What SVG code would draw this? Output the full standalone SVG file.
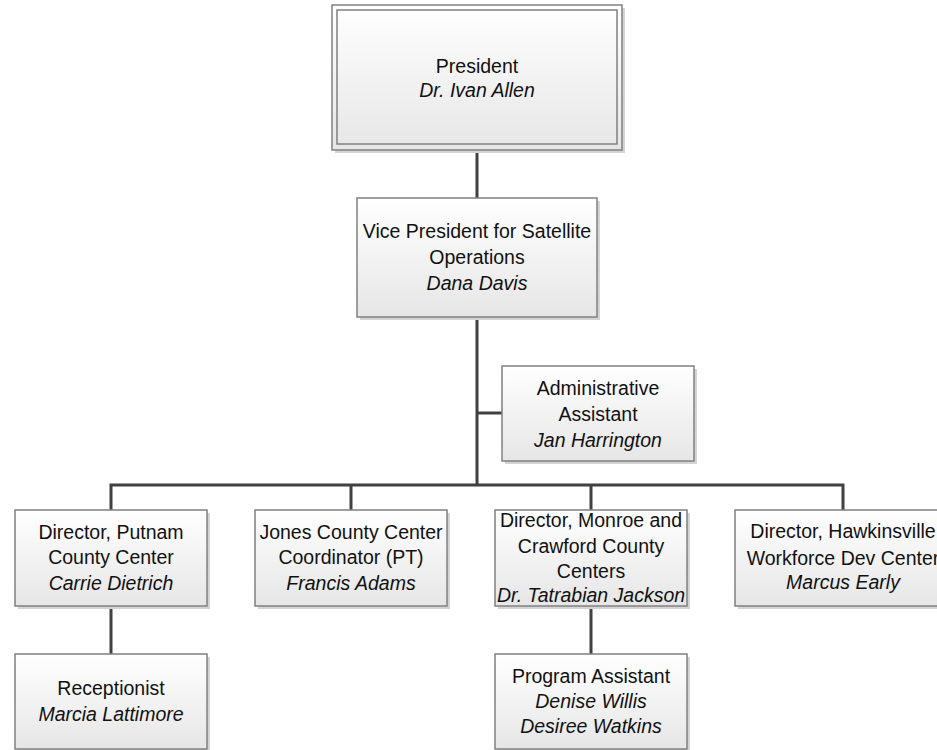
<svg xmlns="http://www.w3.org/2000/svg" width="937" height="750" viewBox="0 0 937 750">
<defs>
<linearGradient id="g" x1="0" y1="0" x2="0" y2="1">
<stop offset="0" stop-color="#ffffff"/>
<stop offset="1" stop-color="#e6e6e6"/>
</linearGradient>
<style>
.box{fill:url(#g);stroke:#808080;stroke-width:1.5}
.sh{fill:#d4d4d4}
.t{font-family:"Liberation Sans",Arial,sans-serif;font-size:19.5px;fill:#111;text-anchor:middle}
.i{font-style:italic}
.c{stroke:#404040;stroke-width:3;fill:none}
</style>
</defs>
<rect width="937" height="750" fill="#fff"/>
<g id="connectors">
<line class="c" x1="477" y1="150" x2="477" y2="198"/>
<line class="c" x1="477" y1="317" x2="477" y2="486"/>
<line class="c" x1="477" y1="413" x2="502" y2="413"/>
<polyline class="c" points="111,510 111,485 843,485 843,510"/>
<line class="c" x1="351" y1="485" x2="351" y2="510"/>
<line class="c" x1="591" y1="485" x2="591" y2="510"/>
<line class="c" x1="111" y1="606" x2="111" y2="654"/>
<line class="c" x1="591" y1="606" x2="591" y2="654"/>
</g>
<g id="president">
<rect class="sh" x="335" y="8" width="290" height="145"/>
<rect class="box" x="332" y="5" width="290" height="145"/>
<rect x="337" y="10" width="280" height="134" fill="none" stroke="#808080" stroke-width="1.5"/>
<text class="t" x="477" y="73">President</text>
<text class="t i" x="477" y="97">Dr. Ivan Allen</text>
</g>
<g id="vp">
<rect class="sh" x="360" y="201" width="240" height="119"/>
<rect class="box" x="357" y="198" width="240" height="119"/>
<text class="t" x="477" y="238">Vice President for Satellite</text>
<text class="t" x="477" y="264">Operations</text>
<text class="t i" x="477" y="290">Dana Davis</text>
</g>
<g id="admin">
<rect class="sh" x="505" y="369" width="192" height="95"/>
<rect class="box" x="502" y="366" width="192" height="95"/>
<text class="t" x="598" y="395">Administrative</text>
<text class="t" x="598" y="421">Assistant</text>
<text class="t i" x="598" y="447">Jan Harrington</text>
</g>
<g id="putnam">
<rect class="sh" x="18" y="513" width="192" height="96"/>
<rect class="box" x="15" y="510" width="192" height="96"/>
<text class="t" x="111" y="539">Director, Putnam</text>
<text class="t" x="111" y="564">County Center</text>
<text class="t i" x="111" y="590">Carrie Dietrich</text>
</g>
<g id="jones">
<rect class="sh" x="258" y="513" width="192" height="96"/>
<rect class="box" x="255" y="510" width="192" height="96"/>
<text class="t" x="351" y="539">Jones County Center</text>
<text class="t" x="351" y="564">Coordinator (PT)</text>
<text class="t i" x="351" y="590">Francis Adams</text>
</g>
<g id="monroe">
<rect class="sh" x="498" y="513" width="192" height="96"/>
<rect class="box" x="495" y="510" width="192" height="96"/>
<text class="t" x="591" y="527">Director, Monroe and</text>
<text class="t" x="591" y="553">Crawford County</text>
<text class="t" x="591" y="578">Centers</text>
<text class="t i" x="591" y="602">Dr. Tatrabian Jackson</text>
</g>
<g id="hawkinsville">
<rect class="sh" x="738" y="513" width="230" height="96"/>
<rect class="box" x="735" y="510" width="230" height="96"/>
<text class="t" x="843" y="538">Director, Hawkinsville</text>
<text class="t" x="843" y="565">Workforce Dev Center</text>
<text class="t i" x="843" y="589">Marcus Early</text>
</g>
<g id="receptionist">
<rect class="sh" x="18" y="657" width="192" height="95"/>
<rect class="box" x="15" y="654" width="192" height="95"/>
<text class="t" x="111" y="695">Receptionist</text>
<text class="t i" x="111" y="721">Marcia Lattimore</text>
</g>
<g id="program-assistant">
<rect class="sh" x="498" y="657" width="192" height="95"/>
<rect class="box" x="495" y="654" width="192" height="95"/>
<text class="t" x="591" y="683">Program Assistant</text>
<text class="t i" x="591" y="708">Denise Willis</text>
<text class="t i" x="591" y="733">Desiree Watkins</text>
</g>
</svg>
